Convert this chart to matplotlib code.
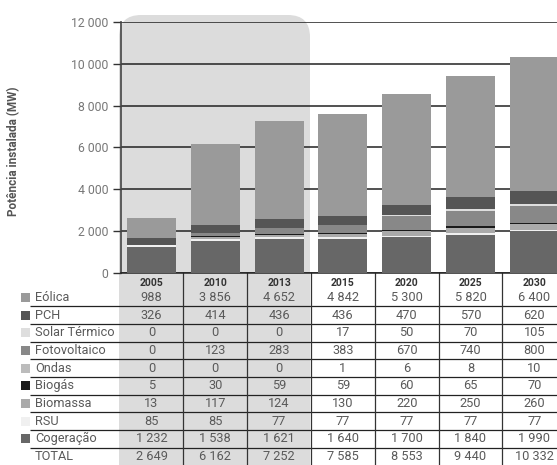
import matplotlib
matplotlib.use('Agg')
import matplotlib.pyplot as plt
from matplotlib.patches import FancyBboxPatch, Rectangle
from matplotlib.ticker import FuncFormatter
import matplotlib.transforms as mtransforms

plt.rcParams['font.family'] = ['Roboto', 'DejaVu Sans']

years = ['2005', '2010', '2013', '2015', '2020', '2025', '2030']
sources = ['Eólica', 'PCH', 'Solar Térmico', 'Fotovoltaico', 'Ondas',
           'Biogás', 'Biomassa', 'RSU', 'Cogeração']
eolica = [988, 3856, 4652, 4842, 5300, 5820, 6400]
pch = [326, 414, 436, 436, 470, 570, 620]
solar = [0, 0, 0, 17, 50, 70, 105]
foto = [0, 123, 283, 383, 670, 740, 800]
ondas = [0, 0, 0, 1, 6, 8, 10]
biogas = [5, 30, 59, 59, 60, 65, 70]
biomassa = [13, 117, 124, 130, 220, 250, 260]
rsu = [85, 85, 77, 77, 77, 77, 77]
cogeracao = [1232, 1538, 1621, 1640, 1700, 1840, 1990]
total = [2649, 6162, 7252, 7585, 8553, 9440, 10332]
yticks = [0, 2000, 4000, 6000, 8000, 10000, 12000]

series = {
    'Eólica': eolica, 'PCH': pch, 'Solar Térmico': solar,
    'Fotovoltaico': foto, 'Ondas': ondas, 'Biogás': biogas,
    'Biomassa': biomassa, 'RSU': rsu, 'Cogeração': cogeracao,
}
colors = {
    'Eólica': '#9a9a9a', 'PCH': '#555555', 'Solar Térmico': '#dedede',
    'Fotovoltaico': '#888888', 'Ondas': '#bcbcbc', 'Biogás': '#1a1a1a',
    'Biomassa': '#aaaaaa', 'RSU': '#f0f0f0', 'Cogeração': '#676767',
}
stack_order = ['Cogeração', 'RSU', 'Biomassa', 'Biogás', 'Ondas',
               'Fotovoltaico', 'Solar Térmico', 'PCH', 'Eólica']

W, H = 557, 465
fig = plt.figure(figsize=(W / 100, H / 100), dpi=100)

# background pixel-space axes
bg = fig.add_axes([0, 0, 1, 1], zorder=0)
bg.set_xlim(0, W)
bg.set_ylim(H, 0)
bg.axis('off')

gray = FancyBboxPatch((119, 15), 191, 480,
                      boxstyle='round,pad=0,rounding_size=22',
                      facecolor='#dcdcdc', edgecolor='none')
bg.add_patch(gray)

# main axes
ax_left, ax_right, ax_top, ax_bottom = 121, 557, 22, 273
ax = fig.add_axes([ax_left / W, 1 - ax_bottom / H,
                   (ax_right - ax_left) / W, (ax_bottom - ax_top) / H], zorder=1)
ax.set_facecolor('none')
pitch = 63.8
c0 = 151.5
ax.set_xlim((ax_left - c0) / pitch, (ax_right - c0) / pitch)
ax.set_ylim(0, 12000)

x = list(range(len(years)))
bottom = [0] * len(years)
for s in stack_order:
    vals = series[s]
    ax.bar(x, vals, width=0.77, bottom=bottom, color=colors[s],
           edgecolor='none', zorder=3)
    bottom = [b + v for b, v in zip(bottom, vals)]

ax.set_yticks(yticks)
ax.yaxis.set_major_formatter(FuncFormatter(lambda v, p: f'{int(v):,}'.replace(',', ' ')))
ax.grid(axis='y', color='#222222', lw=1.1, zorder=1)
ax.set_axisbelow(True)
ax.tick_params(axis='y', length=6, width=1, color='#333333', labelsize=8.8,
               labelcolor='#777777', pad=3)
ax.tick_params(axis='x', bottom=False, labelbottom=False)
for sp in ['top', 'right']:
    ax.spines[sp].set_visible(False)
ax.spines['left'].set_color('#444444')
ax.spines['bottom'].set_color('#222222')
ax.spines['left'].set_linewidth(1.2)
ax.spines['bottom'].set_linewidth(1.1)

ax.set_ylabel('Potência instalada (MW)', fontsize=8.5, fontweight='bold',
              color='#555555')
ax.yaxis.set_label_coords(-0.232, 0.486)

# table
blend = mtransforms.blended_transform_factory(ax.transData, bg.transData)
header_y = 283
row0 = 297.5
rstep = 17.65
rows = sources + ['TOTAL']

for i, yr in enumerate(years):
    bg.text(i, header_y, yr, transform=blend, ha='center', va='center',
            fontsize=7.5, fontweight='bold', color='#333333')
    for r, s in enumerate(rows):
        v = total[i] if s == 'TOTAL' else series[s][i]
        bg.text(i, row0 + r * rstep, f'{v:,}'.replace(',', ' '),
                transform=blend, ha='center', va='center',
                fontsize=9.2, color='#5a5a5a')

for r, s in enumerate(rows):
    yy = row0 + r * rstep
    if s != 'TOTAL':
        bg.add_patch(Rectangle((21, yy - 4.5), 9, 9, facecolor=colors[s],
                               edgecolor='none'))
        bg.hlines(yy + rstep / 2, 30, W, color='#222222', lw=0.9)
    bg.text(35, yy, s, ha='left', va='center', fontsize=9.2, color='#5a5a5a')

for i in range(len(years) - 1):
    bg.plot([i + 0.5, i + 0.5], [ax_bottom, H], transform=blend,
            color='#333333', lw=0.9, clip_on=False)

fig.savefig('out.png', dpi=100)
